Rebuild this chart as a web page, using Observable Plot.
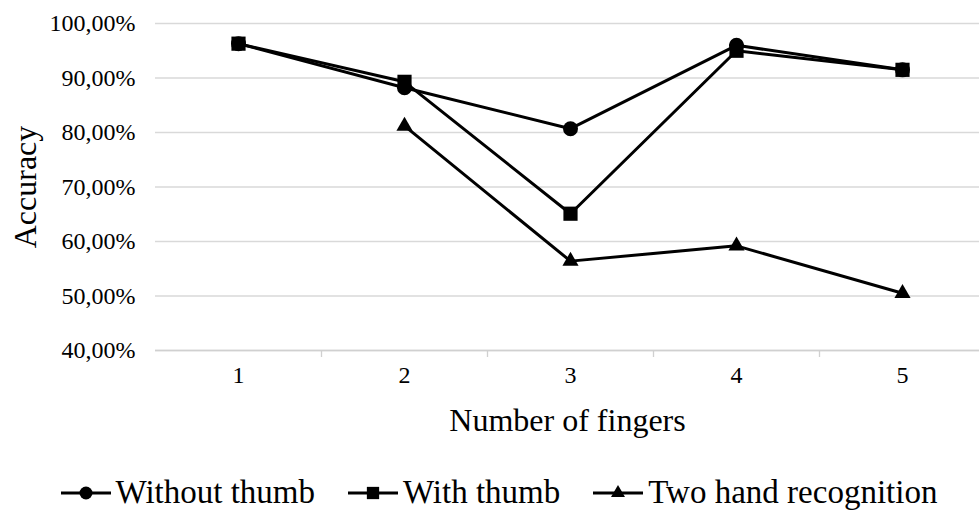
<!DOCTYPE html>
<html>
<head>
<meta charset="utf-8">
<script src="https://cdn.jsdelivr.net/npm/d3@7"></script>
<script src="https://cdn.jsdelivr.net/npm/@observablehq/plot@0.6"></script>
<style>
  html, body { margin: 0; padding: 0; background: #fff; }
  body { width: 979px; height: 510px; overflow: hidden; font-family: "Liberation Serif", "Times New Roman", serif; }
  #chart svg [aria-label="y-axis label"] text,
  #chart svg [aria-label="x-axis label"] text { font-size: 32px; }
  #legend { display: flex; justify-content: center; align-items: center; height: 55px; margin-top: 10px; font-size: 33px; color: #000; padding-left: 18px; box-sizing: border-box; }
  .item { display: flex; align-items: center; margin: 0 16px; }
  .item svg { margin-right: 4px; }
</style>
</head>
<body>
<div id="chart"></div>
<div id="legend"></div>
<script>
const fingers = [1, 2, 3, 4, 5];
const withoutThumb = [96.3, 88.2, 80.7, 96.0, 91.5];
const withThumb = [96.3, 89.3, 65.1, 95.0, 91.5];
const twoHand = [null, 81.2, 56.4, 59.2, 50.5];
const yTicks = [40, 50, 60, 70, 80, 90, 100];
const seriesNames = ["Without thumb", "With thumb", "Two hand recognition"];
const seriesSymbols = ["circle", "square", "triangle"];
const seriesR = [7.5, 8, 6];

const seriesValues = [withoutThumb, withThumb, twoHand];
const rows = [];
seriesValues.forEach((vals, si) => {
  vals.forEach((v, i) => {
    if (v != null) rows.push({series: seriesNames[si], finger: fingers[i], value: v});
  });
});

const fmt = v => v.toFixed(2).replace(".", ",") + "%";
const boundaries = fingers.slice(0, -1).map(f => f + 0.5);

const marks = [
  Plot.gridY(yTicks, {stroke: "#d9d9d9", strokeOpacity: 1, strokeWidth: 1.3}),
  Plot.ruleY([40], {stroke: "#d0d0d0", strokeWidth: 1.3}),
  Plot.axisY(yTicks, {tickSize: 0, tickPadding: 20, tickFormat: fmt, fontSize: 24,
    label: "Accuracy", labelAnchor: "center", labelArrow: "none", labelOffset: 142}),
  Plot.axisX(fingers, {tickSize: 0, tickPadding: 15, fontSize: 24, tickFormat: d => String(d),
    label: "Number of fingers", labelAnchor: "center", labelArrow: "none", labelOffset: 80}),
  Plot.axisX(boundaries, {tickSize: 7, stroke: "#d0d0d0", strokeWidth: 1.3, tickFormat: () => "", label: null})
];
seriesNames.forEach((name, si) => {
  const data = rows.filter(r => r.series === name);
  marks.push(Plot.line(data, {x: "finger", y: "value", stroke: "#000", strokeWidth: 3}));
  marks.push(Plot.dot(data, {x: "finger", y: "value", symbol: seriesSymbols[si], r: seriesR[si], fill: "#000", stroke: "none"}));
});

const chart = Plot.plot({
  width: 979,
  height: 455,
  marginTop: 23,
  marginBottom: 105,
  marginLeft: 155,
  marginRight: 0,
  style: {fontFamily: "Liberation Serif", fontSize: "24px", color: "#000", background: "#fff"},
  x: {type: "linear", domain: [0.5, 5.5], range: [155, 985]},
  y: {domain: [40, 100], range: [350, 23]},
  marks
});
document.getElementById("chart").appendChild(chart);

const legend = document.getElementById("legend");
seriesNames.forEach((name, si) => {
  const item = document.createElement("span");
  item.className = "item";
  const symbolType = {circle: d3.symbolCircle, square: d3.symbolSquare, triangle: d3.symbolTriangle}[seriesSymbols[si]];
  const path = d3.symbol(symbolType, Math.PI * seriesR[si] * seriesR[si] * 0.75)();
  item.innerHTML = `<svg width="52" height="20" viewBox="-26 -10 52 20"><line x1="-25" x2="25" y1="0" y2="0" stroke="#000" stroke-width="3"/><path d="${path}" fill="#000"/></svg><span>${name}</span>`;
  legend.appendChild(item);
});
</script>
</body>
</html>
